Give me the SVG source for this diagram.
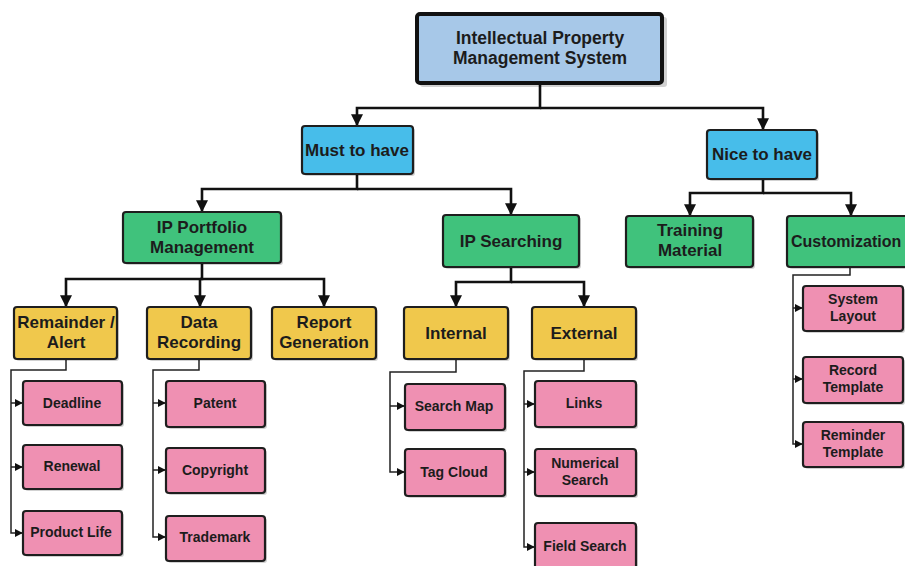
<svg xmlns="http://www.w3.org/2000/svg" width="905" height="566" viewBox="0 0 905 566">
<style>
.box{stroke:#1e1e1e;stroke-width:2.2}
.root{fill:#a7c8e8;stroke:#111;stroke-width:4}
.blue{fill:#47bdea}
.green{fill:#40c27c}
.yellow{fill:#f0c84c}
.pink{fill:#ef90b2}
.sh{fill:#000;opacity:0.18}
text{font-family:"Liberation Sans",Arial,sans-serif;font-weight:bold;fill:#1c1c1c;text-anchor:middle}
.t17{font-size:17px}
.t14{font-size:14px}
.main{fill:none;stroke:#111;stroke-width:2.6}
.leaf{fill:none;stroke:#222;stroke-width:1.5}
</style>
<defs>
<marker id="arr" viewBox="0 0 10 10" refX="9" refY="5" markerWidth="12" markerHeight="12" markerUnits="userSpaceOnUse" orient="auto"><path d="M0,0 L10,5 L0,10 z" fill="#111"/></marker>
<marker id="arrs" viewBox="0 0 10 10" refX="9" refY="5" markerWidth="8" markerHeight="8" markerUnits="userSpaceOnUse" orient="auto"><path d="M0,0 L10,5 L0,10 z" fill="#111"/></marker>
</defs>

<g id="connectors">
<path class="main" d="M540,83 V108 H357 V125" marker-end="url(#arr)"/>
<path class="main" d="M540,108 H763 V129" marker-end="url(#arr)"/>
<path class="main" d="M357,174 V189 H202 V211" marker-end="url(#arr)"/>
<path class="main" d="M357,189 H511 V214" marker-end="url(#arr)"/>
<path class="main" d="M202,263 V279 H66 V306" marker-end="url(#arr)"/>
<path class="main" d="M200,279 V306" marker-end="url(#arr)"/>
<path class="main" d="M200,279 H324 V306" marker-end="url(#arr)"/>
<path class="main" d="M511,267 V282 H456 V306" marker-end="url(#arr)"/>
<path class="main" d="M511,282 H584 V306" marker-end="url(#arr)"/>
<path class="main" d="M763,179 V193 H690 V215" marker-end="url(#arr)"/>
<path class="main" d="M763,193 H851 V215" marker-end="url(#arr)"/>

<path class="leaf" d="M66,359 V370 H11 V533 H22" marker-end="url(#arrs)"/>
<path class="leaf" d="M11,403 H22" marker-end="url(#arrs)"/>
<path class="leaf" d="M11,467 H22" marker-end="url(#arrs)"/>
<path class="leaf" d="M199,359 V370 H153 V537 H165" marker-end="url(#arrs)"/>
<path class="leaf" d="M153,403 H165" marker-end="url(#arrs)"/>
<path class="leaf" d="M153,470 H165" marker-end="url(#arrs)"/>
<path class="leaf" d="M456,359 V372 H390 V472 H404" marker-end="url(#arrs)"/>
<path class="leaf" d="M390,406 H404" marker-end="url(#arrs)"/>
<path class="leaf" d="M584,359 V371 H524 V547 H534" marker-end="url(#arrs)"/>
<path class="leaf" d="M524,404 H534" marker-end="url(#arrs)"/>
<path class="leaf" d="M524,472 H534" marker-end="url(#arrs)"/>
<path class="leaf" d="M850,267 V275 H793 V444 H802" marker-end="url(#arrs)"/>
<path class="leaf" d="M793,308 H802" marker-end="url(#arrs)"/>
<path class="leaf" d="M793,379 H802" marker-end="url(#arrs)"/>
</g>

<g id="root">
<rect class="sh" x="420" y="17" width="247" height="70" rx="3"/>
<rect class="root" x="417" y="14" width="245" height="69" rx="3"/>
<text class="t17" x="540" y="44" style="font-size:17.5px">Intellectual Property</text>
<text class="t17" x="540" y="64" style="font-size:17.5px">Management System</text>
</g>

<g id="must">
<rect class="sh" x="304" y="128" width="111" height="48" rx="3"/>
<rect class="box blue" x="302" y="126" width="111" height="48" rx="3"/>
<text class="t17" x="357" y="156">Must to have</text>
</g>

<g id="nice">
<rect class="sh" x="709" y="132" width="110" height="49" rx="3"/>
<rect class="box blue" x="707" y="130" width="110" height="49" rx="3"/>
<text class="t17" x="762" y="160">Nice to have</text>
</g>

<g id="ipportfolio">
<rect class="sh" x="125" y="214" width="158" height="51" rx="3"/>
<rect class="box green" x="123" y="212" width="158" height="51" rx="3"/>
<text class="t17" x="202" y="233">IP Portfolio</text>
<text class="t17" x="202" y="253">Management</text>
</g>

<g id="ipsearching">
<rect class="sh" x="445" y="217" width="136" height="52" rx="3"/>
<rect class="box green" x="443" y="215" width="136" height="52" rx="3"/>
<text class="t17" x="511" y="247">IP Searching</text>
</g>

<g id="training">
<rect class="sh" x="628" y="218" width="127" height="51" rx="3"/>
<rect class="box green" x="626" y="216" width="127" height="51" rx="3"/>
<text class="t17" x="690" y="236">Training</text>
<text class="t17" x="690" y="256">Material</text>
</g>

<g id="customization">
<rect class="sh" x="789" y="218" width="126" height="51" rx="3"/>
<rect class="box green" x="787" y="216" width="126" height="51" rx="3"/>
<text x="791" y="247" style="font-size:16px;text-anchor:start">Customization</text>
</g>

<g id="remainder">
<rect class="sh" x="16" y="309" width="103" height="52" rx="3"/>
<rect class="box yellow" x="14" y="307" width="103" height="52" rx="3"/>
<text class="t17" x="66" y="328">Remainder /</text>
<text class="t17" x="66" y="348">Alert</text>
</g>

<g id="datarecording">
<rect class="sh" x="149" y="309" width="104" height="52" rx="3"/>
<rect class="box yellow" x="147" y="307" width="104" height="52" rx="3"/>
<text class="t17" x="199" y="328">Data</text>
<text class="t17" x="199" y="348">Recording</text>
</g>

<g id="report">
<rect class="sh" x="274" y="309" width="104" height="52" rx="3"/>
<rect class="box yellow" x="272" y="307" width="104" height="52" rx="3"/>
<text class="t17" x="324" y="328">Report</text>
<text class="t17" x="324" y="348">Generation</text>
</g>

<g id="internal">
<rect class="sh" x="406" y="309" width="104" height="52" rx="3"/>
<rect class="box yellow" x="404" y="307" width="104" height="52" rx="3"/>
<text class="t17" x="456" y="339">Internal</text>
</g>

<g id="external">
<rect class="sh" x="534" y="309" width="104" height="52" rx="3"/>
<rect class="box yellow" x="532" y="307" width="104" height="52" rx="3"/>
<text class="t17" x="584" y="339">External</text>
</g>

<g id="deadline">
<rect class="sh" x="25" y="383" width="99" height="44" rx="3"/>
<rect class="box pink" x="23" y="381" width="99" height="44" rx="3"/>
<text class="t14" x="72" y="408">Deadline</text>
</g>
<g id="renewal">
<rect class="sh" x="25" y="447" width="99" height="44" rx="3"/>
<rect class="box pink" x="23" y="445" width="99" height="44" rx="3"/>
<text class="t14" x="72" y="471">Renewal</text>
</g>
<g id="productlife">
<rect class="sh" x="25" y="513" width="99" height="44" rx="3"/>
<rect class="box pink" x="23" y="511" width="99" height="44" rx="3"/>
<text class="t14" x="71" y="537">Product Life</text>
</g>

<g id="patent">
<rect class="sh" x="168" y="383" width="99" height="46" rx="3"/>
<rect class="box pink" x="166" y="381" width="99" height="46" rx="3"/>
<text class="t14" x="215" y="408">Patent</text>
</g>
<g id="copyright">
<rect class="sh" x="168" y="450" width="99" height="45" rx="3"/>
<rect class="box pink" x="166" y="448" width="99" height="45" rx="3"/>
<text class="t14" x="215" y="475">Copyright</text>
</g>
<g id="trademark">
<rect class="sh" x="168" y="518" width="99" height="45" rx="3"/>
<rect class="box pink" x="166" y="516" width="99" height="45" rx="3"/>
<text class="t14" x="215" y="542">Trademark</text>
</g>

<g id="searchmap">
<rect class="sh" x="407" y="386" width="100" height="46" rx="3"/>
<rect class="box pink" x="405" y="384" width="100" height="46" rx="3"/>
<text class="t14" x="454" y="411">Search Map</text>
</g>
<g id="tagcloud">
<rect class="sh" x="407" y="451" width="100" height="47" rx="3"/>
<rect class="box pink" x="405" y="449" width="100" height="47" rx="3"/>
<text class="t14" x="454" y="477">Tag Cloud</text>
</g>

<g id="links">
<rect class="sh" x="537" y="383" width="101" height="46" rx="3"/>
<rect class="box pink" x="535" y="381" width="101" height="46" rx="3"/>
<text class="t14" x="584" y="408">Links</text>
</g>
<g id="numerical">
<rect class="sh" x="537" y="451" width="101" height="47" rx="3"/>
<rect class="box pink" x="535" y="449" width="101" height="47" rx="3"/>
<text class="t14" x="585" y="468">Numerical</text>
<text class="t14" x="585" y="485">Search</text>
</g>
<g id="fieldsearch">
<rect class="sh" x="537" y="525" width="101" height="50" rx="3"/>
<rect class="box pink" x="535" y="523" width="101" height="50" rx="3"/>
<text class="t14" x="585" y="551">Field Search</text>
</g>

<g id="systemlayout">
<rect class="sh" x="805" y="288" width="100" height="45" rx="3"/>
<rect class="box pink" x="803" y="286" width="100" height="45" rx="3"/>
<text class="t14" x="853" y="304">System</text>
<text class="t14" x="853" y="321">Layout</text>
</g>
<g id="recordtemplate">
<rect class="sh" x="805" y="359" width="100" height="46" rx="3"/>
<rect class="box pink" x="803" y="357" width="100" height="46" rx="3"/>
<text class="t14" x="853" y="375">Record</text>
<text class="t14" x="853" y="392">Template</text>
</g>
<g id="remindertemplate">
<rect class="sh" x="805" y="424" width="100" height="45" rx="3"/>
<rect class="box pink" x="803" y="422" width="100" height="45" rx="3"/>
<text class="t14" x="853" y="440">Reminder</text>
<text class="t14" x="853" y="457">Template</text>
</g>
</svg>
